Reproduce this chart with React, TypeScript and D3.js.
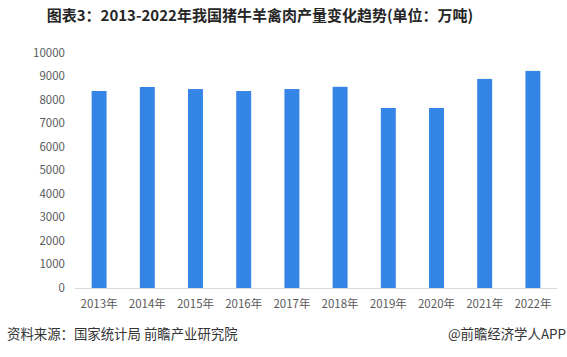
import React from "react";
import * as d3 from "d3";

const categories = ["2013年", "2014年", "2015年", "2016年", "2017年", "2018年", "2019年", "2020年", "2021年", "2022年"];
const values = [8372, 8543, 8455, 8370, 8455, 8550, 7650, 7650, 8885, 9225];
const yTicks = [0, 1000, 2000, 3000, 4000, 5000, 6000, 7000, 8000, 9000, 10000];
const title = "图表3：2013-2022年我国猪牛羊禽肉产量变化趋势(单位：万吨)";
const source = "资料来源：国家统计局 前瞻产业研究院";
const credit = "@前瞻经济学人APP";

const W = 567;
const H = 357;
const font = "'Noto Sans CJK SC', 'Noto Sans', sans-serif";

export default function App() {
  const x = d3.scaleBand().domain(categories).range([75, 557]).paddingInner(0.69).paddingOuter(0.345);
  const y = d3.scaleLinear().domain([0, 10000]).range([288, 52.7]);
  return (
    <svg width={W} height={H} style={{ position: "absolute", left: 0, top: 0, background: "#fff" }}>
      <rect width={W} height={H} fill="#fff" />
      <text x={260} y={21} textAnchor="middle" fontFamily={font} fontWeight="bold" fontSize={15} fill="#262626">
        {title}
      </text>
      {yTicks.map((t) => (
        <text key={t} x={65} y={y(t)} dy="0.35em" textAnchor="end" fontFamily={font} fontSize={11.5} fill="#595959">
          {t}
        </text>
      ))}
      {categories.map((c, i) => (
        <rect key={c} x={x(c)} y={y(values[i])} width={x.bandwidth()} height={y(0) - y(values[i])} fill="#3585E6" />
      ))}
      <line x1={75} x2={557} y1={288.5} y2={288.5} stroke="#d9d9d9" strokeWidth={1} />
      {categories.map((c) => (
        <text key={c} x={(x(c) as number) + x.bandwidth() / 2} y={304} dy="0.35em" textAnchor="middle" fontFamily={font} fontSize={11.5} fill="#595959">
          {c}
        </text>
      ))}
      <text x={7} y={334} dy="0.35em" fontFamily={font} fontSize={13.4} fill="#333">
        {source}
      </text>
      <text x={566} y={334} dy="0.35em" textAnchor="end" fontFamily={font} fontSize={13.4} fill="#333">
        {credit}
      </text>
    </svg>
  );
}
